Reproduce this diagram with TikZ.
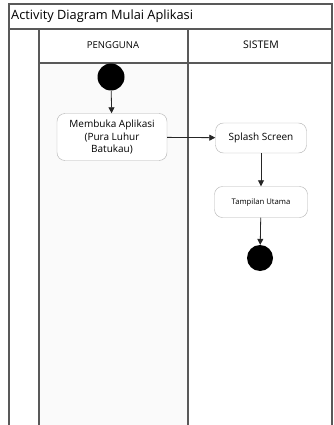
\documentclass[tikz,border=0pt]{standalone}
\usepackage{fontspec}
\setmainfont{Open Sans}
\usetikzlibrary{arrows.meta}

\begin{document}
\begin{tikzpicture}[x=1pt, y=-1pt, >={Triangle[length=6pt, width=6pt]},
        lane/.style={draw=black!65, line width=1.1pt},
        act/.style={draw=black!30, rounded corners=8pt, fill=white, align=center, inner sep=1pt, font=\fontsize{10}{12.5}\selectfont},
        dot/.style={circle, fill=black, minimum size=27pt, inner sep=0pt},
        flow/.style={->, black!85, line width=0.8pt}]
        \useasboundingbox (0,0) rectangle (333,425);

        % swimlanes
        \fill [black!2] (39,63) rectangle (188,425);
        \draw [lane] (9,425) -- (9,4) -- (332,4) -- (332,425);
        \draw [lane] (9,29) -- (332,29);
        \draw [lane] (39,63) -- (332,63);
        \draw [lane] (39,29) -- (39,425);
        \draw [lane] (188,29) -- (188,425);

        \node [right, inner sep=1pt, font=\fontsize{12.8}{15}\selectfont] (title) at (10,16) {Activity Diagram Mulai Aplikasi};
        \node [font=\fontsize{9.5}{11}\selectfont] (pengguna) at (113,45) {PENGGUNA};
        \node [font=\fontsize{10.5}{11}\selectfont] (sistem) at (261,45) {SISTEM};

        % activities
        \node [dot] (mulai) at (111,77) {};
        \node [act, minimum width=110pt, minimum height=47pt] (buka) at (112,137) {Membuka Aplikasi\\(Pura Luhur\\Batukau)};
        \node [act, minimum width=91pt, minimum height=30pt] (splash) at (261,138) {Splash Screen};
        \node [act, minimum width=93pt, minimum height=31pt, font=\fontsize{7.7}{9}\selectfont] (utama) at (261,202) {Tampilan Utama};
        \node [dot, minimum size=26pt] (selesai) at (260,258) {};

        \draw [flow] (mulai) -- (buka);
        \draw [flow] (buka) -- (splash);
        \draw [flow] (splash) -- (utama);
        \draw [flow] (utama) -- (selesai);
    \end{tikzpicture}
\end{document}
